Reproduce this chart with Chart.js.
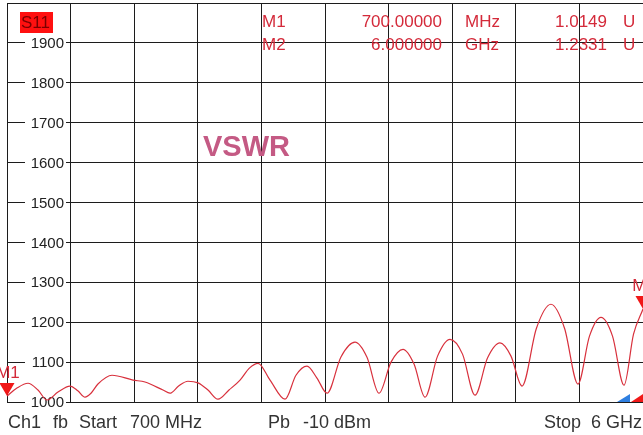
<!DOCTYPE html>
<html>
<head>
<meta charset="utf-8">
<script src="https://cdn.jsdelivr.net/npm/chart.js@4"></script>
<style>
  body { margin: 0; background: #fff; }
  canvas { display: block; }
</style>
</head>
<body>
<canvas id="vswrChart" width="643" height="435"></canvas>
<script>
// trace (MHz, VSWR in mU)
const freqs = [700, 783, 875, 958, 1033, 1125, 1225, 1290, 1350, 1400, 1458, 1575, 1750, 1850,
  2000, 2058, 2130, 2208, 2292, 2375, 2458, 2550, 2642, 2720, 2792, 2892, 3017, 3108, 3200, 3283,
  3367, 3483, 3600, 3700, 3800, 3900, 4000, 4092, 4183, 4288, 4392, 4496, 4600, 4704, 4808, 4900,
  4992, 5112, 5233, 5346, 5458, 5554, 5650, 5746, 5842, 5921, 6000];
const vswr = [1015, 1035, 1047, 1030, 1005, 1025, 1040, 1028, 1012, 1022, 1045, 1067, 1055, 1050,
  1030, 1022, 1040, 1052, 1048, 1030, 1007, 1030, 1055, 1085, 1097, 1055, 1007, 1067, 1090, 1060,
  1022, 1113, 1150, 1112, 1022, 1100, 1132, 1095, 1012, 1115, 1157, 1120, 1017, 1110, 1148, 1115,
  1040, 1185, 1245, 1185, 1045, 1165, 1212, 1165, 1042, 1170, 1233];

const yTicks = [1000, 1100, 1200, 1300, 1400, 1500, 1600, 1700, 1800, 1900];

const markerNames = ["M1", "M2"];
const markerFreqs = [700, 6000];
const markerVals = [1014.9, 1233.1];
const markerFreqText = ["700.00000", "6.000000"];
const markerUnits = ["MHz", "GHz"];
const markerValText = ["1.0149", "1.2331"];

const gridColor = "#1c1c1c";
const red = "#d42a3a";

const labelsPlugin = {
  id: "vnaLabels",
  beforeDatasetsDraw(chart) {
    const ctx = chart.ctx;
    const ys = chart.scales.y;
    ctx.save();
    ctx.font = "15px 'Liberation Sans', Arial, sans-serif";
    ctx.textAlign = "right";
    ctx.textBaseline = "middle";
    yTicks.forEach((v) => {
      const y = ys.getPixelForValue(v);
      ctx.fillStyle = "#fff";
      ctx.fillRect(25, y - 8, 41, 16);
      ctx.fillStyle = "#222";
      ctx.fillText(String(v), 64, y + 1);
    });

    // S11 badge
    ctx.fillStyle = "#ff1010";
    ctx.fillRect(20, 12, 33, 21);
    ctx.fillStyle = "#7a0000";
    ctx.textAlign = "left";
    ctx.font = "17px 'Liberation Sans', Arial, sans-serif";
    ctx.fillText("S11", 21, 23);

    // VSWR title
    ctx.fillStyle = "#c45a84";
    ctx.font = "bold 29px 'Liberation Sans', Arial, sans-serif";
    ctx.textBaseline = "alphabetic";
    ctx.fillText("VSWR", 203, 156);
    ctx.restore();
  },
  afterDatasetsDraw(chart) {
    const ctx = chart.ctx;
    const xs = chart.scales.x;
    const ys = chart.scales.y;
    ctx.save();

    // marker readout
    ctx.fillStyle = red;
    ctx.font = "17px 'Liberation Sans', Arial, sans-serif";
    ctx.textBaseline = "alphabetic";
    markerNames.forEach((name, i) => {
      const base = 27 + i * 23;
      ctx.textAlign = "left";
      ctx.fillText(name, 262, base);
      ctx.fillText(markerUnits[i], 465, base);
      ctx.fillText("U", 623, base);
      ctx.textAlign = "right";
      ctx.fillText(markerFreqText[i], 442, base);
      ctx.fillText(markerValText[i], 607, base);
    });

    // marker triangles on the trace
    markerNames.forEach((name, i) => {
      const px = xs.getPixelForValue(markerFreqs[i]);
      const py = ys.getPixelForValue(markerVals[i]);
      ctx.fillStyle = "#f01818";
      ctx.beginPath();
      ctx.moveTo(px, py);
      ctx.lineTo(px - 7.5, py - 13);
      ctx.lineTo(px + 7.5, py - 13);
      ctx.closePath();
      ctx.fill();
      ctx.fillStyle = red;
      ctx.textAlign = "center";
      ctx.font = "17px 'Liberation Sans', Arial, sans-serif";
      ctx.fillText(name, px + 1, py - 18);
    });

    // stimulus markers at bottom right
    const by = ys.getPixelForValue(1000);
    ctx.fillStyle = "#2f7fe0";
    ctx.beginPath();
    ctx.moveTo(617, by);
    ctx.lineTo(630, by - 8);
    ctx.lineTo(630, by);
    ctx.closePath();
    ctx.fill();
    ctx.fillStyle = "#f01818";
    ctx.beginPath();
    ctx.moveTo(631, by);
    ctx.lineTo(643, by - 8);
    ctx.lineTo(643, by);
    ctx.closePath();
    ctx.fill();

    // status line
    ctx.fillStyle = "#333";
    ctx.font = "18px 'Liberation Sans', Arial, sans-serif";
    ctx.textAlign = "left";
    ctx.fillText("Ch1", 8, 428);
    ctx.fillText("fb", 53, 428);
    ctx.fillText("Start", 79, 428);
    ctx.fillText("700 MHz", 130, 428);
    ctx.fillText("Pb", 268, 428);
    ctx.fillText("-10 dBm", 303, 428);
    ctx.textAlign = "right";
    ctx.fillText("Stop  6 GHz", 642, 428);
    ctx.restore();
  }
};

const chart = new Chart(document.getElementById("vswrChart"), {
  type: "line",
  data: {
    datasets: [
      {
        data: freqs.map((f, i) => ({ x: f, y: vswr[i] })),
        borderColor: "#d8303c",
        borderWidth: 1.2,
        pointRadius: 0,
        cubicInterpolationMode: "monotone",
      },
    ],
  },
  options: {
    responsive: false,
    animation: false,
    layout: { padding: { left: 7, right: 0, top: 3, bottom: 33 } },
    plugins: { legend: { display: false }, tooltip: { enabled: false } },
    scales: {
      x: {
        type: "linear",
        min: 700,
        max: 6000,
        afterBuildTicks: (s) => {
          const t = [];
          for (let i = 0; i <= 10; i++) t.push({ value: 700 + i * 530 });
          s.ticks = t;
        },
        afterFit: (s) => { s.height = 0; },
        ticks: { display: false },
        grid: { color: gridColor, lineWidth: 1, drawTicks: false },
        border: { color: gridColor },
      },
      y: {
        min: 1000,
        max: 2000,
        ticks: { display: false, stepSize: 100 },
        afterFit: (s) => { s.width = 0; },
        grid: { color: gridColor, lineWidth: 1, drawTicks: false },
        border: { color: gridColor },
      },
    },
  },
  plugins: [labelsPlugin],
});
</script>
</body>
</html>
